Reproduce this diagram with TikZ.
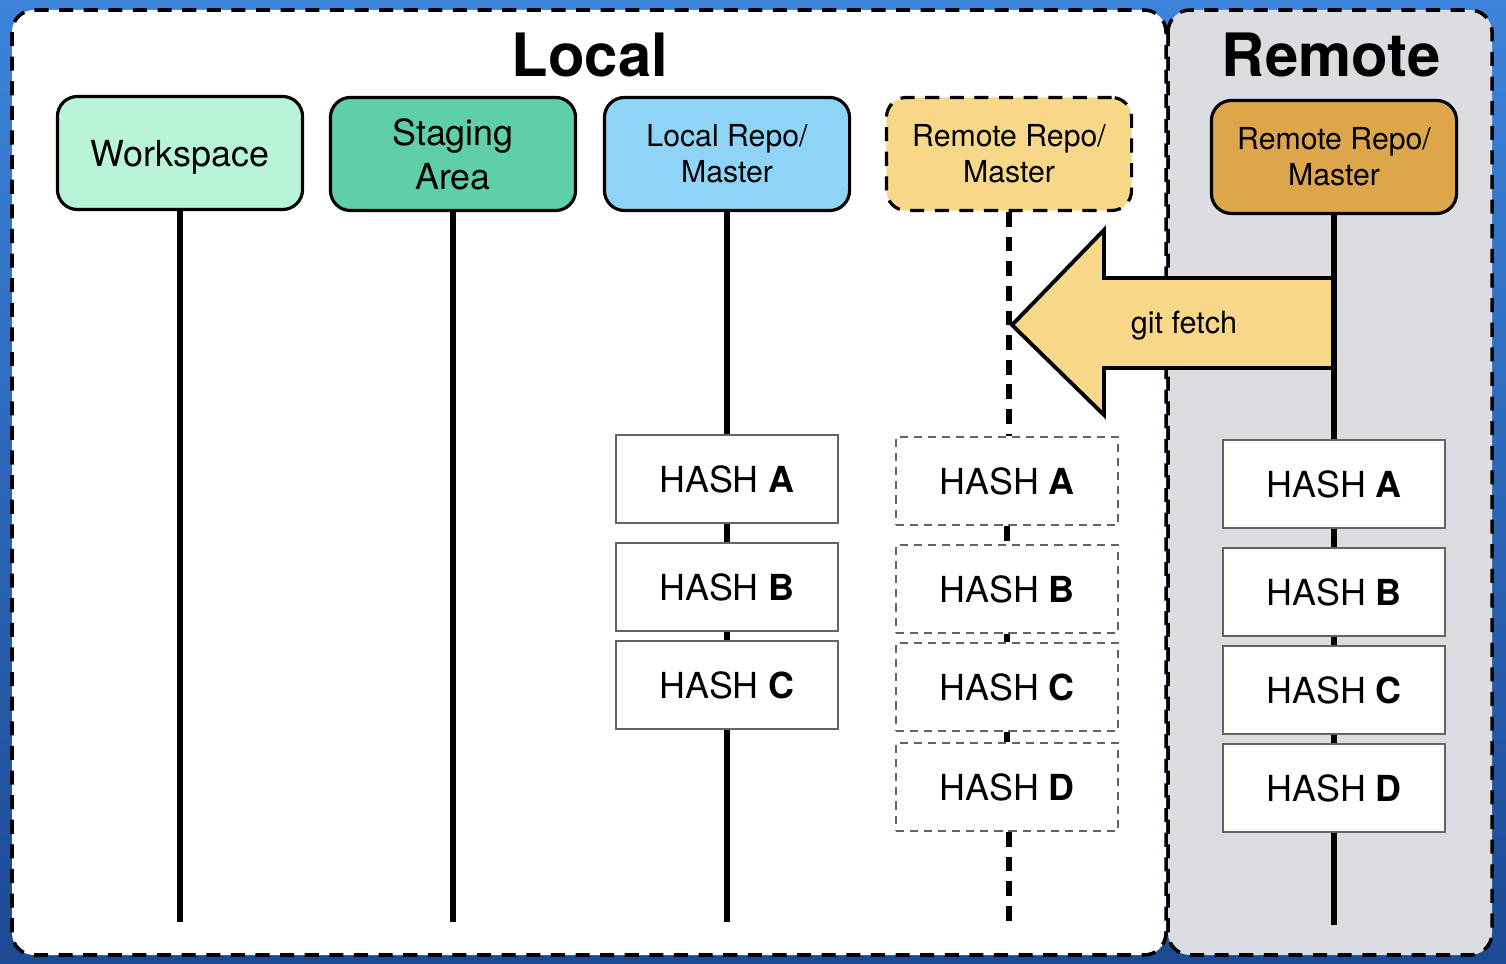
\documentclass[tikz,border=0pt]{standalone}
\usepackage{fontspec}
\setmainfont{TeX Gyre Heros}
\usepackage{xcolor}
\usepackage{tikz}
\usetikzlibrary{positioning, calc}
\definecolor{gitsky}{RGB}{60, 132, 218}
\definecolor{gitnavy}{RGB}{28, 74, 147}
\definecolor{gitpanel}{RGB}{220, 221, 224}
\definecolor{gitmint}{RGB}{184, 245, 216}
\definecolor{gitteal}{RGB}{94, 207, 170}
\definecolor{gitblue}{RGB}{141, 212, 247}
\definecolor{gitsand}{RGB}{247, 215, 136}
\definecolor{gitamber}{RGB}{222, 166, 75}
\definecolor{gitedge}{RGB}{100, 100, 100}

\begin{document}
\begin{tikzpicture}[x=0.01cm, y=-0.01cm,
  panel/.style={draw=black, line width=1pt, dash pattern=on 4pt off 3pt, rounded corners=0.22cm},
  header/.style={draw=black, line width=0.9pt, rounded corners=0.2cm, minimum width=2.45cm, minimum height=1.13cm, align=center, inner sep=0pt},
  hashbox/.style={draw=gitedge, line width=0.6pt, fill=white, minimum width=2.22cm, minimum height=0.88cm, inner sep=0pt, font=\fontsize{10.2}{12}\selectfont},
  trackbox/.style={hashbox, dash pattern=on 2.3pt off 1.7pt},
  branch/.style={line width=1.6pt},
  trackline/.style={line width=1.8pt, dash pattern=on 4.2pt off 2.8pt}]
% Background
\shade[top color=gitsky, bottom color=gitnavy] (0,0) rectangle (1506,964);
\useasboundingbox (0,0) rectangle (1506,964);

% Panels
\draw[panel, fill=white] (12,10) rectangle (1166,955);
\draw[panel, fill=gitpanel] (1168,10) rectangle (1492,955);
\node (local) at (590,55) {\fontsize{17}{20}\selectfont\bfseries Local};
\node (remote) at (1331,55) {\fontsize{17}{20}\selectfont\bfseries Remote};

% Headers
\node[header, fill=gitmint, text depth=0pt, font=\fontsize{10.2}{12.5}\selectfont] (work) at (180,153) {Workspace};
\node[header, fill=gitteal, font=\fontsize{10.2}{12.5}\selectfont] (stage) at (453,154) {Staging\\Area};
\node[header, fill=gitblue, font=\fontsize{8.6}{10.2}\selectfont] (lrepo) at (727,154) {Local Repo/\\Master};
\node[header, fill=gitsand, dash pattern=on 4pt off 3pt, font=\fontsize{8.6}{10.2}\selectfont] (track) at (1009,154) {Remote Repo/\\Master};
\node[header, fill=gitamber, font=\fontsize{8.6}{10.2}\selectfont] (rrepo) at (1334,157) {Remote Repo/\\Master};

% git fetch
\draw[line width=1.1pt, fill=gitsand, line join=miter]
  (1012,325) -- (1104,230) -- (1104,278) -- (1335,278) -- (1335,368) -- (1104,368) -- (1104,415) -- cycle;
\node[font=\fontsize{8.7}{10}\selectfont] (fetch) at (1184,326) {git fetch};

% Local commits
\node[hashbox] (la) at (727,479) {HASH \textbf{A}};
\node[hashbox] (lb) at (727,587) {HASH \textbf{B}};
\node[hashbox] (lc) at (727,685) {HASH \textbf{C}};

% Remote-tracking commits
\node[trackbox] (ta) at (1007,481) {HASH \textbf{A}};
\node[trackbox] (tb) at (1007,589) {HASH \textbf{B}};
\node[trackbox] (tc) at (1007,687) {HASH \textbf{C}};
\node[trackbox] (td) at (1007,787) {HASH \textbf{D}};

% Remote commits
\node[hashbox] (ra) at (1334,484) {HASH \textbf{A}};
\node[hashbox] (rb) at (1334,592) {HASH \textbf{B}};
\node[hashbox] (rc) at (1334,690) {HASH \textbf{C}};
\node[hashbox] (rd) at (1334,788) {HASH \textbf{D}};

% Branch lines
\coordinate (workend) at (180,922);
\coordinate (stageend) at (453,922);
\coordinate (lrepoend) at (727,922);
\coordinate (trackend) at (1009,922);
\coordinate (rrepoend) at (1334,925);
\draw[branch] (work) -- (workend);
\draw[branch] (stage) -- (stageend);
\draw[branch] (lrepo) -- (la) (la) -- (lb) (lb) -- (lc) (lc) -- (lrepoend);
\draw[trackline] (track.south) -- (track.south |- ta.north) (ta) -- (tb) (tb) -- (tc) (tc) -- (td) (td.south -| trackend) -- (trackend);
\draw[branch] (rrepo) -- (ra) (ra) -- (rb) (rb) -- (rc) (rc) -- (rd) (rd) -- (rrepoend);
\end{tikzpicture}
\end{document}
